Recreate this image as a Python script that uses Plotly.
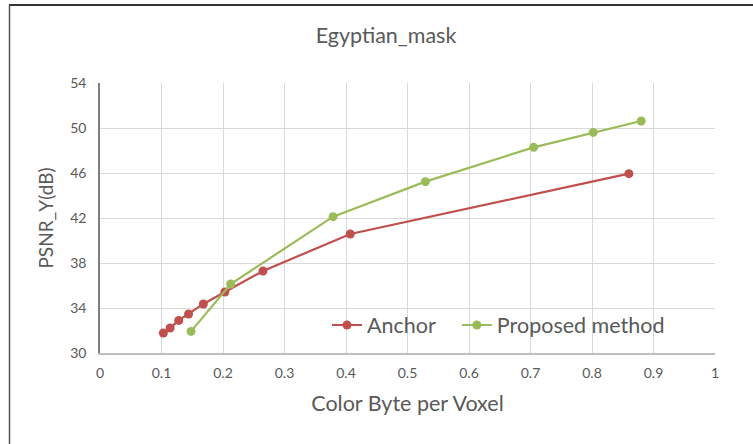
import plotly.graph_objects as go

# Rate-distortion points: colour bytes per voxel vs. luma PSNR
anchor_rate = [0.103, 0.114, 0.128, 0.144, 0.168, 0.203, 0.265, 0.407, 0.860]
anchor_psnr = [31.78, 32.22, 32.90, 33.47, 34.36, 35.42, 37.29, 40.58, 45.94]

proposed_rate = [0.148, 0.2125, 0.379, 0.529, 0.705, 0.802, 0.880]
proposed_psnr = [31.92, 36.13, 42.12, 45.23, 48.28, 49.61, 50.62]

x_ticks = [0, 0.1, 0.2, 0.3, 0.4, 0.5, 0.6, 0.7, 0.8, 0.9, 1]
x_tick_text = ["0", "0.1", "0.2", "0.3", "0.4", "0.5", "0.6", "0.7", "0.8", "0.9", "1"]
y_ticks = [30, 34, 38, 42, 46, 50, 54]

RED = "#C0504D"
GREEN = "#9BBB59"
TEXT = "#595959"
GRID = "#D9D9D9"
FONT = "Lato, 'Open Sans', sans-serif"

W, H = 753, 444
ML, MR, MT, MB = 100, 38, 83, 91

fig = go.Figure()
fig.add_trace(go.Scatter(
    # trailing non-breaking spaces widen the gap between legend entries
    x=anchor_rate, y=anchor_psnr, mode="lines+markers", name="Anchor\u00a0\u00a0\u00a0",
    line=dict(color=RED, width=2.2),
    marker=dict(color=RED, size=9),
))
fig.add_trace(go.Scatter(
    x=proposed_rate, y=proposed_psnr, mode="lines+markers", name="Proposed method",
    line=dict(color=GREEN, width=2.2),
    marker=dict(color=GREEN, size=9),
))

# outer frame lines (top and left edge of the chart box)
pw = W - ML - MR
ph = H - MT - MB
def px_x(p):
    return (p - ML) / pw
def px_y(p):
    return (H - MB - p) / ph

fig.add_shape(type="line", xref="paper", yref="paper",
              x0=px_x(9), x1=px_x(W + 5), y0=px_y(5), y1=px_y(5),
              line=dict(color="#333333", width=2))
fig.add_shape(type="line", xref="paper", yref="paper",
              x0=px_x(9.5), x1=px_x(9.5), y0=px_y(5), y1=px_y(H + 5),
              line=dict(color="#555555", width=1.5))

fig.update_layout(
    width=W, height=H,
    margin=dict(l=ML, r=MR, t=MT, b=MB),
    paper_bgcolor="white", plot_bgcolor="white",
    font=dict(family=FONT, color=TEXT),
    title=dict(text="Egyptian_mask", x=386 / W, xref="container", xanchor="center",
               y=1 - 35 / H, yref="container", yanchor="middle",
               font=dict(size=21.5, color=TEXT, family=FONT)),
    xaxis=dict(
        range=[0, 1], tickvals=x_ticks, ticktext=x_tick_text,
        showgrid=True, gridcolor=GRID, gridwidth=1,
        showline=True, linecolor="#BFBFBF", linewidth=1.5,
        zeroline=False, ticks="", tickfont=dict(size=14, color=TEXT),
        ticklabelstandoff=6,
        title=dict(text="Color Byte per Voxel", font=dict(size=21.5, color=TEXT), standoff=16),
    ),
    yaxis=dict(
        range=[30, 54], tickvals=y_ticks,
        showgrid=True, gridcolor=GRID, gridwidth=1,
        showline=True, linecolor="#7F7F7F", linewidth=1.5,
        zeroline=False, ticks="", tickfont=dict(size=14, color=TEXT),
        ticklabelstandoff=9,
        title=dict(text="PSNR_Y(dB)", font=dict(size=19, color=TEXT), standoff=12),
    ),
    legend=dict(
        orientation="h", x=px_x(327), xanchor="left", y=px_y(325), yanchor="middle",
        bgcolor="rgba(255,255,255,0)", font=dict(size=21.5, color=TEXT),
        itemwidth=30, tracegroupgap=0,
    ),
    showlegend=True,
)

fig.write_html("out.html")
